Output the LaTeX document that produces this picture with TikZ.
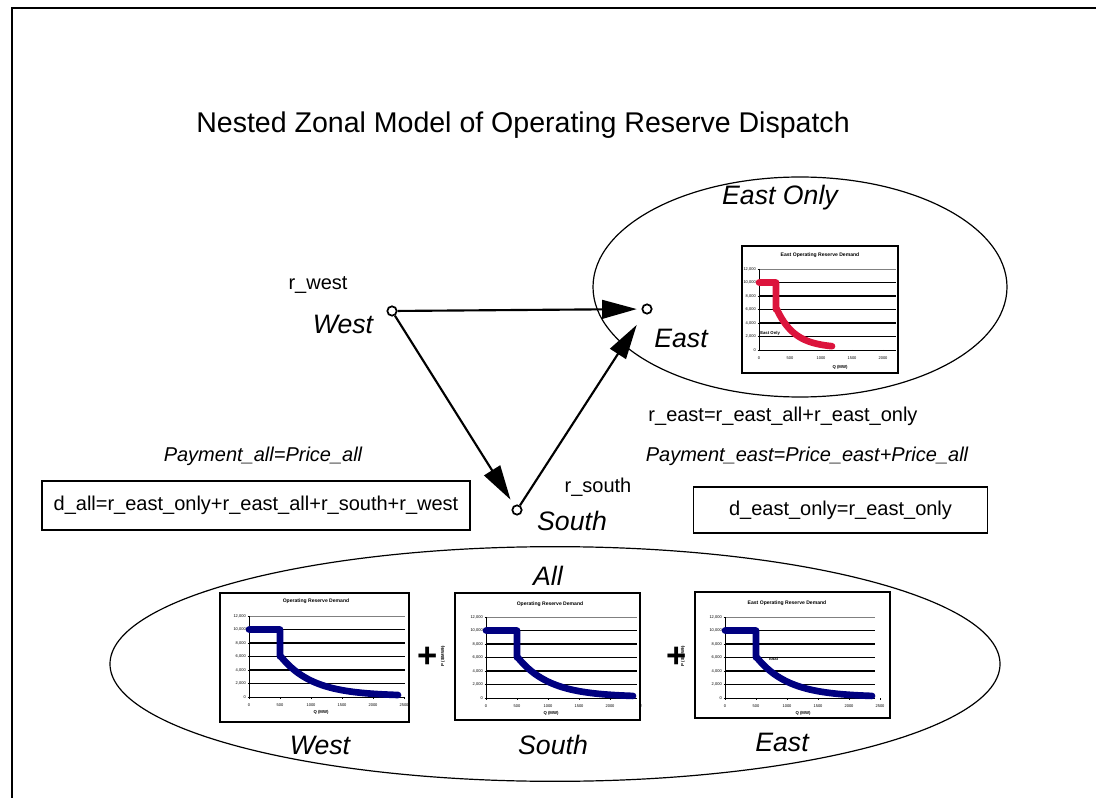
\documentclass[tikz,border=0pt]{standalone}
\usepackage{fontspec}
\setmainfont{Liberation Sans}
\usetikzlibrary{arrows.meta}
\definecolor{crimsonline}{RGB}{220,20,60}
\definecolor{navyline}{RGB}{0,0,128}
\newcommand{\rsgrid}[6]{%
  \fill[white] (#1,#2) rectangle (#3,#4);
  \draw[line width=0.9pt] (#1,#2) rectangle (#3,#4);
  \foreach \k in {1,...,5} \draw[line width=0.8pt] (0,-13.5*\k) -- (#5,-13.5*\k);
  \draw[gray,line width=0.6pt] (0,-81) -- (#5,-81);
  \draw[line width=0.5pt] (0,-81) -- (0,0) -- (#5,0);
  \foreach \k/\l in {0/0,1/{2,000},2/{4,000},3/{6,000},4/{8,000},5/{10,000},6/{12,000}}
    {\draw[line width=0.3pt] (-1.5,-13.5*\k) -- (0,-13.5*\k);
     \node[tick,anchor=east] at (-3,-13.5*\k) {\l};}
  \foreach \k in {#6}
    {\pgfmathtruncatemacro{\v}{500*\k}
     \draw[line width=0.3pt] (31*\k,0) -- (31*\k,1.5);
     \node[tick] at (31*\k,8) {\v};}
}
\begin{document}
\begin{tikzpicture}[x=0.75pt,y=-0.75pt,
  dot/.style={circle,draw,fill=white,line width=1.3pt,minimum size=7pt,inner sep=0pt},
  lbl/.style={font=\fontsize{15}{18}\selectfont,inner sep=0pt},
  eq/.style={font=\fontsize{15}{18}\selectfont\itshape,inner sep=0pt},
  big/.style={font=\fontsize{20}{24}\selectfont\itshape,inner sep=0pt},
  eqbox/.style={draw,line width=0.9pt,font=\fontsize{15}{18}\selectfont,inner sep=0pt},
  flow/.style={-{Triangle[length=26pt,width=14pt]},line width=1.6pt},
  zone/.style={draw,line width=0.9pt},
  tick/.style={font=\fontsize{3}{3.5}\selectfont,inner sep=0pt},
  ctitle/.style={font=\fontsize{3.8}{4.5}\selectfont\bfseries,inner sep=0pt},
  clab/.style={font=\fontsize{3.2}{4}\selectfont\bfseries,inner sep=0pt},
  demand/.style={line width=5pt,line cap=round,line join=round},
  plus/.style={font=\fontsize{26}{26}\selectfont\bfseries,inner sep=0pt},
]
\useasboundingbox (0,0) rectangle (1096,798);
% page frame
\draw[line width=1.3pt] (12,798) -- (12,8) -- (1096,8);

\node[font=\fontsize{21.4}{26}\selectfont,inner sep=0pt] (title) at (523,125)
  {Nested Zonal Model of Operating Reserve Dispatch};

% zones
\draw[zone] (800,287) ellipse [x radius=155.25pt, y radius=82.5pt];
\draw[zone] (555,664) ellipse [x radius=333.75pt, y radius=88pt];

\node[big] (eastonly) at (780,198) {East Only};
\node[big] (all) at (548,576) {All};

% top east chart
\begin{scope}[shift={(759,350)}]
  \rsgrid{-17}{-104}{139}{23}{137}{0,...,4}
  \node[ctitle] (t1) at (61,-95) {East Operating Reserve Demand};
  \node[clab] (q1) at (81,17) {Q (MW)};
  \node[clab,anchor=west] (eo) at (1,-17) {East Only};
  \draw[demand,crimsonline] (0,-67.5) -- (17,-67.5) -- (17,-40.5)
     -- plot[domain=17:73,samples=30] (\x,{-40.5*exp(-(\x-17)/18)-2});
\end{scope}

% west chart
\begin{scope}[shift={(249,697)}]
  \rsgrid{-29}{-104}{160}{25}{156}{0,...,5}
  \node[ctitle] (t2) at (67,-96) {Operating Reserve Demand};
  \node[clab] (q2) at (72,15) {Q (MW)};
  \draw[demand,navyline] (0,-67.5) -- (31,-67.5) -- (31,-40.5)
     -- plot[domain=31:149,samples=40] (\x,{-40.5*exp(-(\x-31)/32)-1});
\end{scope}

% south chart
\begin{scope}[shift={(486,698)}]
  \rsgrid{-31}{-105}{154}{22}{151}{0,...,4}
  \node[tick] at (155,8) {2};
  \node[ctitle] (t3) at (64,-94) {Operating Reserve Demand};
  \node[clab] (q3) at (65,15) {Q (MW)};
  \node[clab,rotate=90] (p3) at (-43,-42) {P (\$/MWh)};
  \draw[demand,navyline] (0,-67.5) -- (31,-67.5) -- (31,-40.5)
     -- plot[domain=31:147,samples=40] (\x,{-40.5*exp(-(\x-31)/32)-1});
\end{scope}

% east chart (all)
\begin{scope}[shift={(725,698)}]
  \rsgrid{-30}{-106}{165}{20}{150}{0,...,5}
  \node[ctitle] (t4) at (62,-95) {East Operating Reserve Demand};
  \node[clab] (q4) at (78,15) {Q (MW)};
  \node[clab,rotate=90] (p4) at (-42,-42) {P (\$/MWh)};
  \draw[demand,navyline] (0,-67.5) -- (31,-67.5) -- (31,-40.5)
     -- plot[domain=31:147,samples=40] (\x,{-40.5*exp(-(\x-31)/32)-1});
  \node[clab] (tot) at (48,-39) {Total};
\end{scope}

\node[plus] (plus1) at (428,657) {+};
\node[plus] (plus2) at (677,657) {+};

\node[big] (wlab) at (320,745) {West};
\node[big] (slab) at (553,745) {South};
\node[big] (elab) at (782,742) {East};

% network
\node[dot] (W) at (392,311) {};
\node[dot] (E) at (647,309) {};
\node[dot] (S) at (517,510) {};
\draw[flow,shorten >=3.5pt] (W) -- (E);
\draw[flow,shorten >=5pt] (W) -- (S);
\draw[flow,shorten >=10pt] (S) -- (E);

\node[lbl] (rwest) at (318,285) {r\_west};
\node[big] (west) at (343,324) {West};
\node[big] (east) at (681,338) {East};
\node[big] (south) at (572,521) {South};
\node[lbl] (rsouth) at (598,487) {r\_south};

\node[eq] (payall) at (263,456) {Payment\_all=Price\_all};
\node[lbl] (reast) at (783,416) {r\_east=r\_east\_all+r\_east\_only};
\node[eq] (payeast) at (807,456) {Payment\_east=Price\_east+Price\_all};

\node[eqbox,minimum width=321pt,minimum height=36.75pt] (dall) at (256,505.5)
  {d\_all=r\_east\_only+r\_east\_all+r\_south+r\_west};
\node[eqbox,minimum width=221pt,minimum height=34.5pt] (deast) at (840.5,510)
  {d\_east\_only=r\_east\_only};
\end{tikzpicture}
\end{document}
